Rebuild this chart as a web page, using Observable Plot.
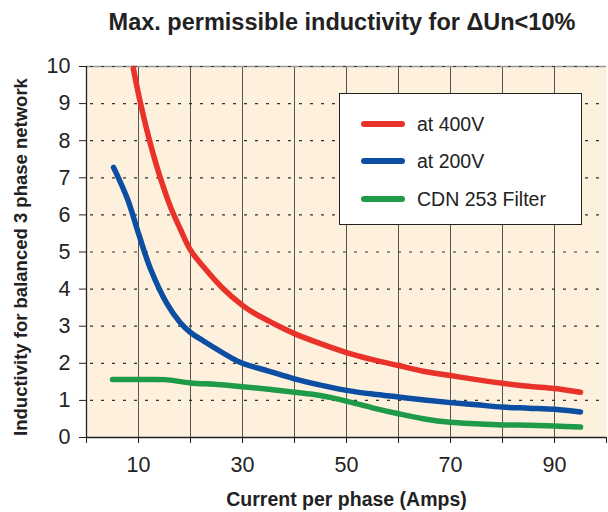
<!DOCTYPE html>
<html>
<head>
<meta charset="utf-8">
<script src="https://cdn.jsdelivr.net/npm/d3@7"></script>
<script src="https://cdn.jsdelivr.net/npm/@observablehq/plot@0.6"></script>
<style>
  html, body { margin: 0; padding: 0; background: #fff; }
  #wrap { position: relative; width: 608px; height: 512px; font-family: "Liberation Sans", Arial, sans-serif; color: #222; }
  #title { position: absolute; left: 80px; width: 524px; top: 8px; line-height: 28px; text-align: center; font-weight: bold; font-size: 23.5px; color: #222; white-space: nowrap; }
  #chart { position: absolute; left: 0; top: 45px; }
  #legend { position: absolute; left: 339px; top: 93px; width: 241px; height: 130px; background: #fff; border: 1.5px solid #222; }
  .sw { position: absolute; left: 21px; width: 44px; height: 5.5px; border-radius: 3px; }
  .lab { position: absolute; left: 77px; font-size: 19.5px; line-height: 22px; white-space: nowrap; color: #222; }
</style>
</head>
<body>
<div id="wrap">
  <div id="title"></div>
  <div id="chart"></div>
  <div id="legend"></div>
</div>
<script>
const titleText = "Max. permissible inductivity for \u0394Un<10%";
const xLabel = "Current per phase (Amps)";
const yLabel = "Inductivity for balanced 3 phase network";

const seriesNames = ["at 400V", "at 200V", "CDN 253 Filter"];
const seriesColors = ["#e8322a", "#0b4ea2", "#1f9a48"];

const x400 = [9, 10.4, 12.7, 14.2, 16.2, 18.1, 20, 22.5, 26, 30, 32, 36, 40, 45, 50, 55, 60, 65, 70, 75, 80, 85, 90, 95];
const y400 = [9.95, 9.0, 7.7, 7.0, 6.2, 5.6, 5.05, 4.6, 4.05, 3.56, 3.37, 3.07, 2.8, 2.53, 2.29, 2.1, 1.94, 1.78, 1.67, 1.56, 1.46, 1.38, 1.32, 1.22];

const x200 = [5.2, 7.9, 10, 12.3, 15.5, 18, 20, 22.5, 27.7, 30, 35, 40, 45, 50, 55, 60, 65, 70, 75, 80, 85, 90, 95];
const y200 = [7.28, 6.42, 5.5, 4.55, 3.6, 3.1, 2.83, 2.6, 2.16, 2.0, 1.79, 1.58, 1.41, 1.27, 1.17, 1.09, 1.01, 0.94, 0.88, 0.82, 0.79, 0.76, 0.69];

const xCdn = [5, 10, 15, 20, 25, 30, 35, 40, 45, 50, 55, 60, 65, 70, 75, 80, 85, 90, 95];
const yCdn = [1.56, 1.56, 1.56, 1.47, 1.43, 1.37, 1.3, 1.22, 1.13, 0.98, 0.8, 0.64, 0.5, 0.41, 0.37, 0.34, 0.33, 0.31, 0.28];

const xTicks = [0, 10, 20, 30, 40, 50, 60, 70, 80, 90, 100];
const xTickLabels = [10, 30, 50, 70, 90];
const xGrid = [10, 20, 30, 40, 50, 60, 70, 80, 90];
const yTicks = [0, 1, 2, 3, 4, 5, 6, 7, 8, 9, 10];
const yGrid = [1, 2, 3, 4, 5, 6, 7, 8, 9, 10];

const xs = [x400, x200, xCdn];
const ys = [y400, y200, yCdn];
const data = [];
seriesNames.forEach((name, i) => {
  xs[i].forEach((x, j) => data.push({series: name, x, y: ys[i][j]}));
});

document.getElementById("title").textContent = titleText;

const chart = Plot.plot({
  width: 608,
  height: 467,
  marginTop: 21,
  marginBottom: 75,
  marginLeft: 86,
  marginRight: 2,
  style: {fontFamily: "'Liberation Sans', Arial, sans-serif", color: "#222", background: "transparent", overflow: "visible"},
  x: {domain: [0, 100]},
  y: {domain: [0, 10]},
  color: {domain: seriesNames, range: seriesColors},
  marks: [
    Plot.frame({fill: "#fdf0dc", stroke: null}),
    Plot.ruleX(xGrid, {stroke: "#555", strokeWidth: 1}),
    Plot.ruleY([10], {stroke: "#999", strokeWidth: 1.5}),
    Plot.ruleY(yGrid, {stroke: "#333", strokeWidth: 1.2, strokeDasharray: "3,8", strokeDashoffset: -4}),
    Plot.ruleX([0], {stroke: "#222", strokeWidth: 1.3}),
    Plot.ruleY([0], {stroke: "#222", strokeWidth: 1.3}),
    Plot.axisY(yTicks, {tickSize: 7, tickPadding: 9, fontSize: 21.5, label: null, stroke: "#222"}),
    Plot.axisX(xTicks, {tickSize: 6, tickPadding: 13, fontSize: 21.5, label: null, stroke: "#222",
      tickFormat: d => xTickLabels.includes(d) ? String(d) : ""}),
    Plot.line(data, {x: "x", y: "y", z: "series", stroke: "series", strokeWidth: 5.5, curve: "catmull-rom", strokeLinecap: "round", strokeLinejoin: "round"}),
    Plot.text([yLabel], {text: d => d, frameAnchor: "left", textAnchor: "middle", lineAnchor: "middle", dx: -65, dy: 5, rotate: -90, fontWeight: "bold", fontSize: 18.5, fill: "#222"}),
    Plot.text([xLabel], {text: d => d, frameAnchor: "bottom", textAnchor: "middle", lineAnchor: "middle", dy: 62, fontWeight: "bold", fontSize: 19.5, fill: "#222"})
  ]
});
document.getElementById("chart").appendChild(chart);

const legend = document.getElementById("legend");
const rowY = [30, 67, 105];
seriesNames.forEach((name, i) => {
  const sw = document.createElement("div");
  sw.className = "sw";
  sw.style.top = (rowY[i] - 2.75) + "px";
  sw.style.background = seriesColors[i];
  legend.appendChild(sw);
  const lab = document.createElement("div");
  lab.className = "lab";
  lab.style.top = (rowY[i] - 11) + "px";
  lab.textContent = name;
  legend.appendChild(lab);
});
</script>
</body>
</html>
